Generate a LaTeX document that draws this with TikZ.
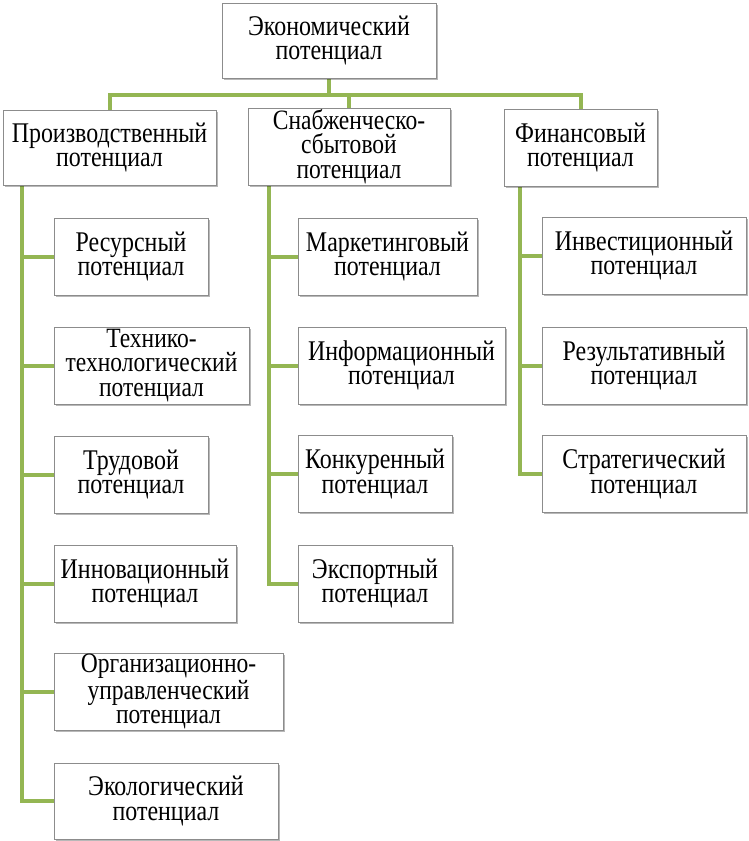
\documentclass[tikz,border=0pt]{standalone}
\usepackage{fontspec}
\setmainfont{Liberation Serif}[FakeStretch=0.84]
\usetikzlibrary{shadows,backgrounds}
\pgfdeclarelayer{back}
\pgfsetlayers{back,background,main}
\definecolor{lgreen}{HTML}{94B653}
\definecolor{bgray}{HTML}{8C8C8C}
\tikzset{
  box/.style={draw=bgray, line width=0.9pt, fill=white, inner sep=0pt, align=center,
    font=\fontsize{28.5}{24.5}\selectfont,
    drop shadow={shadow xshift=1.8pt, shadow yshift=-1.8pt, fill=black, opacity=0.28}},
  tri/.style={font=\fontsize{28}{24.2}\selectfont},
  conn/.style={draw=lgreen, line width=4pt},
}
\newcommand{\bx}[7]{% name, cx, cy, w, h, text, extra
  \node[box,#7, minimum width=#4pt, minimum height=#5pt] (#1) at (#2,#3) {#6};}
\begin{document}
\begin{tikzpicture}[x=1pt,y=-1pt]
\begin{pgfonlayer}{back}
\fill[white] (0,0) rectangle (748,841);
\end{pgfonlayer}
\useasboundingbox (0,0) rectangle (748,841);
\coordinate (bar) at (0,95);
\coordinate (lt) at (22,0);
\coordinate (mt) at (269,0);
\coordinate (rt) at (520,0);
% nodes
\bx{top}{329}{40.5}{214}{75}{Экономический\\потенциал}{}
\bx{prod}{109.5}{147.5}{213}{75}{Производственный\\потенциал}{}
\bx{snab}{349}{146.5}{202}{77}{Снабженческо-\\сбытовой\\потенциал}{tri}
\bx{fin}{580.5}{147.5}{153}{77}{Финансовый\\потенциал}{}
\bx{res}{131}{256.5}{154}{77}{Ресурсный\\потенциал}{}
\bx{tech}{151.5}{365.5}{195}{77}{Технико-\\технологический\\потенциал}{tri}
\bx{trud}{131}{474.5}{154}{77}{Трудовой\\потенциал}{}
\bx{innov}{145}{583.5}{182}{77}{Инновационный\\потенциал}{}
\bx{org}{168.5}{691.5}{229}{77}{Организационно-\\управленческий\\потенциал}{tri}
\bx{eco}{166}{801}{224}{76}{Экологический\\потенциал}{}
\bx{mark}{387.5}{256.5}{179}{77}{Маркетинговый\\потенциал}{}
\bx{inf}{401.5}{365.5}{207}{77}{Информационный\\потенциал}{}
\bx{konk}{375}{474}{154}{77}{Конкуренный\\потенциал}{}
\bx{exp}{375}{583.5}{154}{77}{Экспортный\\потенциал}{}
\bx{inv}{644}{255.5}{204}{77}{Инвестиционный\\потенциал}{}
\bx{rez}{644}{365.5}{204}{77}{Результативный\\потенциал}{}
\bx{strat}{644}{474}{204}{77}{Стратегический\\потенциал}{}
% connectors (behind boxes)
\begin{scope}[on background layer]
\draw[conn] (top.south) -- (top.south |- bar);
\draw[conn] (prod.north) -- (prod.north |- bar) -- (fin.north |- bar) -- (fin.north);
\draw[conn] (snab.north) -- (snab.north |- bar);
% left trunk
\draw[conn] (prod.south -| lt) |- (eco.west);
\foreach \n in {res,tech,trud,innov,org} \draw[conn] (\n.west -| lt) -- (\n.west);
% middle trunk
\draw[conn] (snab.south -| mt) |- (exp.west);
\foreach \n in {mark,inf,konk} \draw[conn] (\n.west -| mt) -- (\n.west);
% right trunk
\draw[conn] (fin.south -| rt) |- (strat.west);
\foreach \n in {inv,rez} \draw[conn] (\n.west -| rt) -- (\n.west);
\end{scope}
\end{tikzpicture}
\end{document}
